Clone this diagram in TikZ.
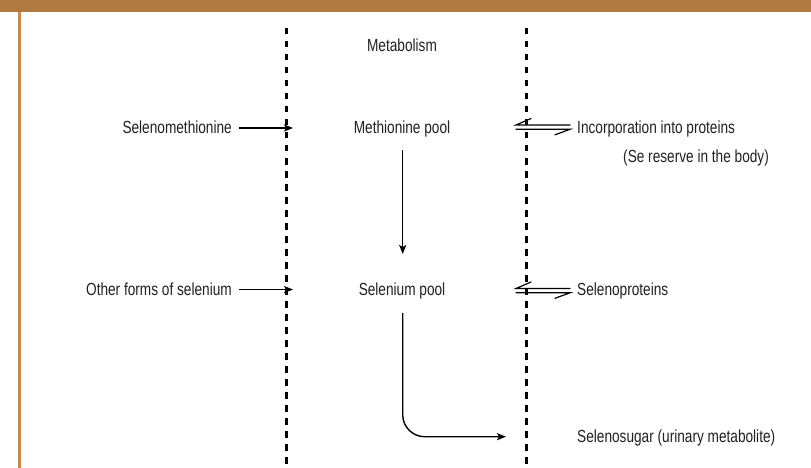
\documentclass[tikz,border=0pt]{standalone}
\usepackage{fontspec}
\setmainfont[FakeStretch=0.78]{Liberation Sans}
\usetikzlibrary{arrows.meta}
\definecolor{hdr}{RGB}{176,122,64}
\definecolor{bord}{RGB}{196,138,88}
\definecolor{txt}{RGB}{35,31,32}
\begin{document}
\begin{tikzpicture}[x=1pt,y=-1pt,
  lbl/.style={font=\fontsize{17.5}{20}\selectfont, text=txt, inner sep=0pt},
  conn/.style={line width=1.4pt, -{Stealth[length=9pt,width=7pt,inset=2pt]}},
  sepline/.style={line width=2.2pt, dash pattern=on 6.5pt off 6.5pt},
  harp/.style={line width=1.2pt, line cap=round}]
\useasboundingbox (0,0) rectangle (811,468);
\fill[hdr] (0,0) rectangle (811,12.5);
\fill[bord] (17.5,12.5) rectangle (20.5,468);
% separators
\coordinate (s1t) at (286.5,28); \coordinate (s1b) at (286.5,468);
\coordinate (s2t) at (526.5,28); \coordinate (s2b) at (526.5,468);
\draw[sepline] (s1t) -- (s1b);
\draw[sepline] (s2t) -- (s2b);
% labels
\node[lbl, anchor=base] (metab) at (402,52) {Metabolism};
\node[lbl, anchor=base east] (semet) at (232,133.5) {Selenomethionine};
\node[lbl, anchor=base] (metpool) at (402,133.5) {Methionine pool};
\node[lbl, anchor=base west] (incorp) at (577,133.5) {Incorporation into proteins};
\node[lbl, anchor=base west] (reserve) at (623,163) {(Se reserve in the body)};
\node[lbl, anchor=base east] (other) at (232,295) {Other forms of selenium};
\node[lbl, anchor=base] (selpool) at (402,295) {Selenium pool};
\node[lbl, anchor=base west] (selprot) at (577,295) {Selenoproteins};
\node[lbl, anchor=base west] (sugar) at (577,442.5) {Selenosugar (urinary metabolite)};
% input arrows
\coordinate (a1s) at (239,128); \coordinate (a1e) at (293,128);
\draw[conn] (a1s) -- (a1e);
\coordinate (a2s) at (239,289.5); \coordinate (a2e) at (293,289.5);
\draw[conn] (a2s) -- (a2e);
% methionine pool -> selenium pool
\coordinate (m1) at (402.7,150); \coordinate (m2) at (402.7,254);
\draw[conn] (m1) -- (m2);
% selenium pool -> selenosugar
\coordinate (c1) at (402.7,313); \coordinate (c2) at (506,436.7);
\draw[conn, rounded corners=22pt] (c1) |- (c2);
% equilibrium harpoons, row 1
\coordinate (e1a) at (516,125); \coordinate (e1b) at (570,125);
\coordinate (e1c) at (516,129.3); \coordinate (e1d) at (570,129.3);
\draw[harp] (e1b) -- (e1a) -- +(15,-6.5);
\draw[harp] (e1c) -- (e1d) -- +(-15,5.5);
% equilibrium harpoons, row 2
\coordinate (e2a) at (516,288.5); \coordinate (e2b) at (570,288.5);
\coordinate (e2c) at (516,292.8); \coordinate (e2d) at (570,292.8);
\draw[harp] (e2b) -- (e2a) -- +(15,-6.5);
\draw[harp] (e2c) -- (e2d) -- +(-15,5.5);
\end{tikzpicture}
\end{document}
